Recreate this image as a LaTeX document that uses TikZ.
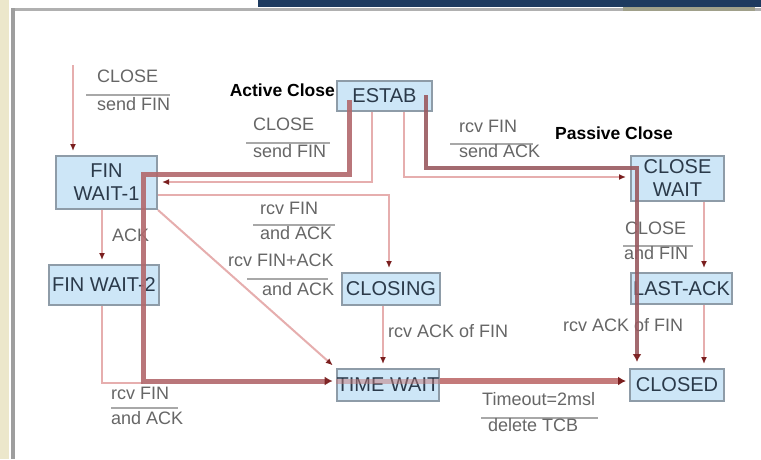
\documentclass[tikz,border=0pt]{standalone}
\usepackage{fontspec}
\setmainfont{Liberation Sans}
\usetikzlibrary{arrows.meta}
\definecolor{boxfill}{HTML}{CDE6F7}
\definecolor{boxline}{HTML}{8E9CA8}
\definecolor{boxtext}{HTML}{2B3A4A}
\definecolor{lbltext}{HTML}{666666}
\definecolor{barcol}{HTML}{A8A8A8}
\definecolor{pinkline}{HTML}{E6AEAE}
\definecolor{activecol}{HTML}{B2686C}
\definecolor{servercol}{HTML}{9A5A60}
\definecolor{bottomcol}{HTML}{C47A7A}
\definecolor{tipcol}{HTML}{7A1E1E}
\definecolor{navy}{HTML}{1E3A5F}
\definecolor{framegray}{HTML}{B0B0B0}
\definecolor{olive}{HTML}{A0A08A}
\definecolor{strip}{HTML}{ECE7CB}
\begin{document}
\begin{tikzpicture}[x=1pt,y=-1pt,
  state/.style={draw=boxline, line width=2pt, fill=boxfill, text=boxtext,
    font=\fontsize{20}{23}\selectfont, inner sep=0pt, align=center},
  lbl/.style={text=lbltext, font=\fontsize{18}{20}\selectfont, inner sep=0pt, anchor=mid west},
  ttl/.style={text=black, font=\bfseries\fontsize{17.5}{19}\selectfont, inner sep=0pt},
  bar/.style={draw=barcol, line width=2.5pt},
  thinline/.style={draw=pinkline, line width=2pt},
  tip/.style={-{Latex[length=7pt,width=6pt,color=tipcol]}, shorten >=4pt},
  bigtip/.style={-{Latex[length=8pt,width=9pt,color=tipcol]}, shorten >=3pt},
  activeline/.style={draw=activecol, line width=5pt, opacity=0.9, line join=miter},
  serverline/.style={draw=servercol, line width=3.5pt, opacity=0.9},
  bottomline/.style={draw=bottomcol, line width=6pt}
]
\useasboundingbox (0,0) rectangle (761,459);
\fill[white] (0,0) rectangle (761,459);
% slide frame
\fill[strip] (0,0) rectangle (9,459);
\fill[navy] (258,0) rectangle (761,7);
\fill[framegray] (11,8) rectangle (761,11);
\fill[olive] (623,7) rectangle (755,11);
\fill[framegray!90!black] (11,8) rectangle (15,459);

% states
\node[state, minimum width=95pt, minimum height=30pt] (estab) at (384.5,96) {ESTAB};
\node[state, minimum width=101pt, minimum height=53pt] (fw1) at (106.5,182.5) {FIN\\WAIT-1};
\node[state, minimum width=110pt, minimum height=40pt] (fw2) at (104,285) {FIN WAIT-2};
\node[state, minimum width=98pt, minimum height=32pt] (closing) at (391,289) {CLOSING};
\node[state, minimum width=102pt, minimum height=32pt] (timewait) at (388,385) {TIME WAIT};
\node[state, minimum width=93pt, minimum height=45pt] (closewait) at (677.5,178.5) {CLOSE\\WAIT};
\node[state, minimum width=101pt, minimum height=31pt] (lastack) at (681.5,288.5) {LAST-ACK};
\node[state, minimum width=94pt, minimum height=32pt] (closed) at (677,385) {CLOSED};

% titles
\node[ttl, anchor=mid east] (active) at (335,94) {Active Close};
\node[ttl, anchor=mid west] (passive) at (555,137) {Passive Close};

% labels
\node[lbl] (l1a) at (97,80) {CLOSE};
\draw[bar] (86,95) -- (170,95);
\node[lbl] (l1b) at (97,108) {send FIN};

\node[lbl] (l2a) at (253,128) {CLOSE};
\draw[bar] (246,143) -- (330,143);
\node[lbl] (l2b) at (253,155) {send FIN};

\node[lbl] (l3a) at (459,130) {rcv FIN};
\draw[bar] (450,144) -- (533,144);
\node[lbl] (l3b) at (459,155) {send ACK};

\node[lbl] (l4a) at (260,212) {rcv FIN};
\draw[bar] (253,225) -- (335,225);
\node[lbl] (l4b) at (260,237) {and ACK};

\node[lbl] (l5a) at (228,264) {rcv FIN+ACK};
\draw[bar] (247,279) -- (328,279);
\node[lbl] (l5b) at (262,293) {and ACK};

\node[lbl] (l6) at (112,239) {ACK};

\node[lbl] (l7a) at (625,232) {CLOSE};
\draw[bar] (623,246) -- (693,246);
\node[lbl] (l7b) at (624,257) {and FIN};

\node[lbl] (l8) at (388,335) {rcv ACK of FIN};
\node[lbl] (l9) at (563,329) {rcv ACK of FIN};

\node[lbl] (l10a) at (111,397) {rcv FIN};
\draw[bar] (111,408) -- (178,408);
\node[lbl] (l10b) at (111,422) {and ACK};

\node[lbl] (l11a) at (482,403) {Timeout=2msl};
\draw[bar] (481,418) -- (598,418);
\node[lbl] (l11b) at (488,429) {delete TCB};

% coordinates
\coordinate (s0) at (73,65);
\coordinate (a0) at (349,100);
\coordinate (a1) at (349,174);
\coordinate (a2) at (143,174);
\coordinate (a3) at (143,381);
\coordinate (b0) at (426,95);
\coordinate (b1) at (426,168);
\coordinate (b2) at (637,168);
\coordinate (p1) at (372,182);
\coordinate (p2) at (404,177);
\coordinate (p3) at (389,195);
\coordinate (p4) at (102,0);
\coordinate (p5) at (102,383);
\coordinate (p6) at (383,0);
\coordinate (p7) at (704,0);

% thin transitions
\draw[thinline, tip] (s0) -- (s0 |- fw1.north);
\draw[thinline, tip] (estab.south -| p1) -- (p1) -- (p1 -| fw1.east);
\draw[thinline, tip] (estab.south -| p2) -- (p2) -- (p2 -| closewait.west);
\draw[thinline, tip] (p3 -| fw1.east) -- (p3) -- (p3 |- closing.north);
\draw[thinline, tip] (fw1.south east) -- (timewait.north west);
\draw[thinline, tip] (fw1.south -| p4) -- (fw2.north -| p4);
\draw[thinline] (fw2.south -| p5) -- (p5) -- (a3 |- p5);
\draw[thinline, tip] (closing.south -| p6) -- (timewait.north -| p6);
\draw[thinline, tip] (closewait.south -| p7) -- (lastack.north -| p7);
\draw[thinline, tip] (lastack.south -| p7) -- (closed.north -| p7);

% thick paths
\draw[activeline, bigtip] (a0) -- (a1) -- (a2) -- (a3) -- (a3 -| timewait.west);
\draw[draw=bottomcol, line width=5pt, opacity=0.5] (a3 -| timewait.west) -- (a3 -| timewait.east);
\draw[bottomline, bigtip] (a3 -| timewait.east) -- (a3 -| closed.west);
\draw[serverline, bigtip, shorten >=6pt] (b0) -- (b1) -- (b2) -- (b2 |- closed.north);
\end{tikzpicture}
\end{document}
